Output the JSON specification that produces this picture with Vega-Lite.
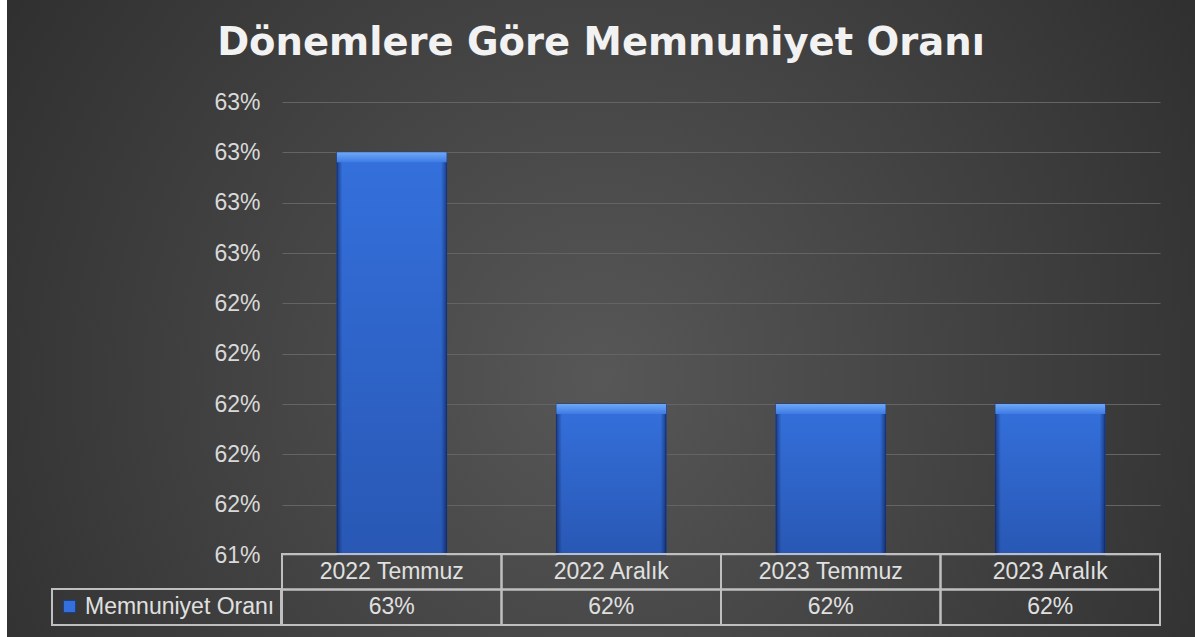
{
  "$schema": "https://vega.github.io/schema/vega-lite/v6.json",
  "width": 1188,
  "height": 637,
  "autosize": {"type": "none"},
  "padding": {"left": 7, "top": 0, "right": 0, "bottom": 0},
  "background": "#ffffff",
  "config": {
    "view": {
      "stroke": null,
      "fill": {"gradient": "radial", "x1": 0.5, "y1": 0.55, "r1": 0, "x2": 0.5, "y2": 0.55, "r2": 0.75,
        "stops": [{"offset": 0, "color": "#575757"}, {"offset": 1, "color": "#252525"}]}
    }
  },
  "title": {
    "text": "Dönemlere Göre Memnuniyet Oranı",
    "font": "DejaVu Sans",
    "fontSize": 38.5,
    "fontWeight": "bold",
    "color": "#f2f2f2",
    "anchor": "middle",
    "frame": "group",
    "offset": -63
  },
  "datasets": {
    "donemler": [
      {"donem": "2022 Temmuz", "oran": 0.63},
      {"donem": "2022 Aralık", "oran": 0.62},
      {"donem": "2023 Temmuz", "oran": 0.62},
      {"donem": "2023 Aralık", "oran": 0.62}
    ]
  },
  "data": {"name": "donemler"},
  "layer": [
    {
      "encoding": {
        "x": {"field": "donem", "type": "nominal", "sort": null,
          "scale": {"type": "band", "domain": ["2022 Temmuz", "2022 Aralık", "2023 Temmuz", "2023 Aralık"], "range": [275, 1153], "paddingInner": 0, "paddingOuter": 0},
          "axis": null},
        "y": {"field": "oran", "type": "quantitative",
          "scale": {"domain": [0.614, 0.632], "range": [555, 102], "zero": false, "nice": false},
          "axis": {"values": [0.614, 0.616, 0.618, 0.62, 0.622, 0.624, 0.626, 0.628, 0.63, 0.632],
            "format": ".0%", "orient": "left", "offset": -261, "labelPadding": 8, "ticks": false, "domain": false,
            "grid": true, "gridColor": "#646464", "gridWidth": 1, "title": null,
            "labelFont": "Liberation Sans", "labelFontSize": 23, "labelColor": "#d9d9d9"}}
      },
      "layer": [
        {
          "mark": {"type": "bar", "width": {"band": 0.5}, "stroke": "#1c3f8c", "strokeWidth": 1},
          "encoding": {
            "y2": {"datum": 0.614},
            "fill": {"datum": "Memnuniyet Oranı", "type": "nominal", "scale": {"range": ["#3470dc"]},
              "legend": {"orient": "none", "legendX": 45, "legendY": 589, "title": null,
                "symbolType": "square", "symbolSize": 144, "symbolStrokeColor": "#1c3f8c", "symbolStrokeWidth": 1,
                "labelFont": "Liberation Sans", "labelFontSize": 23, "labelColor": "#e0e0e0", "labelOffset": 4, "labelLimit": 0,
                "strokeColor": "#bfbfbf", "padding": 6,
                "encode": {"legend": {"update": {"strokeWidth": {"value": 2}}}}}}
          }
        },
        {
          "mark": {"type": "bar", "width": {"band": 0.5},
            "fill": {"gradient": "linear", "x1": 0, "y1": 0, "x2": 1, "y2": 0,
              "stops": [{"offset": 0, "color": "rgba(10,30,80,0.6)"}, {"offset": 0.05, "color": "rgba(10,30,80,0)"}, {"offset": 0.95, "color": "rgba(10,30,80,0)"}, {"offset": 1, "color": "rgba(10,30,80,0.6)"}]}},
          "encoding": {"y2": {"datum": 0.614}}
        },
        {
          "mark": {"type": "bar", "width": {"band": 0.5},
            "fill": {"gradient": "linear", "x1": 0, "y1": 0, "x2": 0, "y2": 1,
              "stops": [{"offset": 0, "color": "rgba(0,0,40,0)"}, {"offset": 1, "color": "rgba(0,0,40,0.22)"}]}},
          "encoding": {"y2": {"datum": 0.614}}
        },
        {
          "mark": {"type": "bar", "width": {"band": 0.5}, "y2Offset": 10,
            "fill": {"gradient": "linear", "x1": 0, "y1": 0, "x2": 0, "y2": 1,
              "stops": [{"offset": 0, "color": "#6ea8f6"}, {"offset": 1, "color": "#3d7be4"}]}},
          "encoding": {"y2": {"field": "oran"}}
        }
      ]
    },
    {
      "encoding": {
        "x": {"field": "donem", "type": "nominal", "sort": null,
          "scale": {"type": "band", "domain": ["2022 Temmuz", "2022 Aralık", "2023 Temmuz", "2023 Aralık"], "range": [275, 1153], "paddingInner": 0, "paddingOuter": 0},
          "axis": null}
      },
      "layer": [
        {
          "mark": {"type": "rect", "fill": "transparent", "stroke": "#bfbfbf", "strokeWidth": 2},
          "encoding": {"y": {"datum": "baslik", "type": "nominal",
            "scale": {"type": "band", "domain": ["baslik", "deger"], "range": [554, 625], "paddingInner": 0, "paddingOuter": 0}, "axis": null}}
        },
        {
          "mark": {"type": "rect", "fill": "transparent", "stroke": "#bfbfbf", "strokeWidth": 2},
          "encoding": {"y": {"datum": "deger", "type": "nominal"}}
        },
        {
          "mark": {"type": "text", "font": "Liberation Sans", "fontSize": 23, "color": "#e0e0e0", "baseline": "middle"},
          "encoding": {"y": {"datum": "baslik", "type": "nominal"}, "text": {"field": "donem"}}
        },
        {
          "mark": {"type": "text", "font": "Liberation Sans", "fontSize": 23, "color": "#e0e0e0", "baseline": "middle"},
          "encoding": {"y": {"datum": "deger", "type": "nominal"}, "text": {"field": "oran", "format": ".0%"}}
        }
      ]
    }
  ],
  "resolve": {"scale": {"x": "independent", "y": "independent", "fill": "independent"}}
}
